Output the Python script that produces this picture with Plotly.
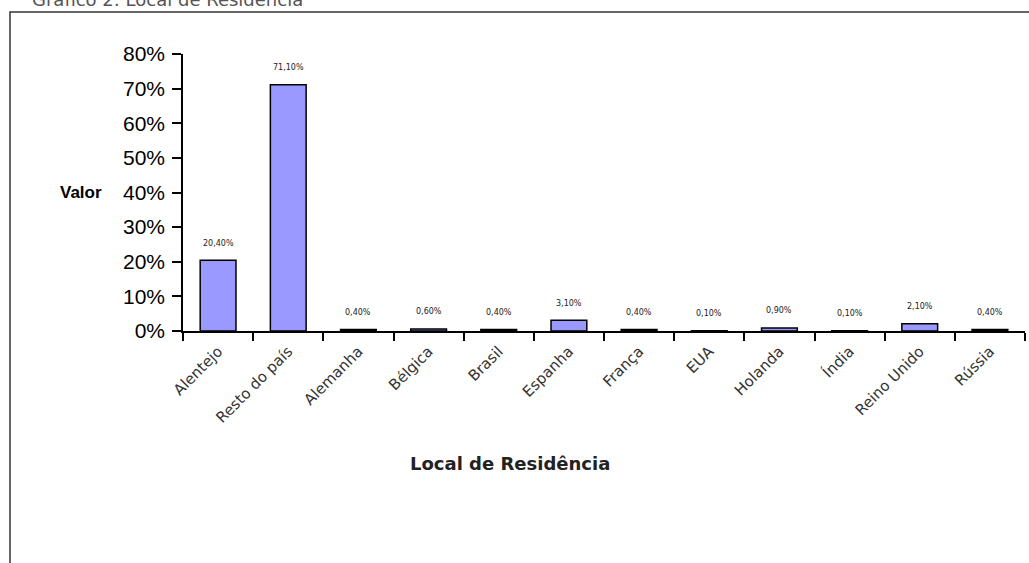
import plotly.graph_objects as go

# Residence of respondents (share of total)
categories = ["Alentejo", "Resto do país", "Alemanha", "Bélgica", "Brasil", "Espanha",
              "França", "EUA", "Holanda", "Índia", "Reino Unido", "Rússia"]
values = [20.4, 71.1, 0.4, 0.6, 0.4, 3.1, 0.4, 0.1, 0.9, 0.1, 2.1, 0.4]
y_ticks = [0, 10, 20, 30, 40, 50, 60, 70, 80]

shares = [v / 100 for v in values]
labels = [f"{v:.2f}%".replace(".", ",") for v in values]

W, H = 1029, 563
L, R, T, B = 183, 4, 54, 232
pw, ph = W - L - R, H - T - B


def px_x(px):
    return (px - L) / pw


def px_y(py):
    return (H - B - py) / ph


fig = go.Figure(
    go.Bar(
        x=categories,
        y=shares,
        width=0.51,
        marker=dict(color="#9999FF", line=dict(color="#000000", width=1.5)),
        hoverinfo="x+y",
    )
)

# value labels above each bar
for cat, share, lab in zip(categories, shares, labels):
    fig.add_annotation(
        x=cat, y=share, xref="x", yref="y", text=lab, showarrow=False,
        yanchor="middle", yshift=17,
        font=dict(family="DejaVu Sans", size=8, color="#222222"),
    )

fig.update_layout(
    width=W,
    height=H,
    margin=dict(l=L, r=R, t=T, b=B),
    paper_bgcolor="white",
    plot_bgcolor="white",
    showlegend=False,
    bargap=0.49,
)

fig.update_xaxes(
    type="category",
    showline=True,
    linecolor="#000000",
    linewidth=1.5,
    ticks="outside",
    tickson="boundaries",
    ticklen=8,
    tickwidth=1.5,
    tickcolor="#000000",
    tickangle=-45,
    ticklabelstandoff=4,
    tickfont=dict(family="DejaVu Sans", size=15, color="#333333"),
    showgrid=False,
)

fig.update_yaxes(
    range=[0, 0.8],
    tickvals=[t / 100 for t in y_ticks],
    ticktext=[f"{t}%" for t in y_ticks],
    showline=True,
    linecolor="#000000",
    linewidth=1.5,
    ticks="outside",
    ticklen=9,
    tickwidth=1.5,
    tickcolor="#000000",
    ticklabelstandoff=3,
    tickfont=dict(family="Arial, Liberation Sans", size=21, color="#000000"),
    showgrid=False,
    zeroline=False,
)

# outer frame of the chart object (top and left edges)
xl, xr = px_x(10), px_x(1029)
yt, yb = px_y(12), px_y(563)
fig.add_shape(
    type="path", xref="paper", yref="paper",
    path=f"M {xr} {yt} L {xl} {yt} L {xl} {yb}",
    line=dict(color="#333333", width=1.5), layer="below",
)

fig.add_annotation(
    text="Gráfico 2: Local de Residência", xref="paper", yref="paper",
    x=px_x(30), y=px_y(-1), xanchor="left", yanchor="middle", showarrow=False,
    font=dict(family="DejaVu Sans", size=18, color="#555555"),
)

fig.add_annotation(
    text="<b>Valor</b>", xref="paper", yref="y",
    x=px_x(104), y=0.4, xanchor="right", yanchor="middle", showarrow=False,
    font=dict(family="Arial, Liberation Sans", size=17, color="#000000"),
)

fig.add_annotation(
    text="<b>Local de Residência</b>", xref="paper", yref="paper",
    x=px_x(510), y=px_y(463), xanchor="center", yanchor="middle", showarrow=False,
    font=dict(family="DejaVu Sans", size=18, color="#222222"),
)

fig.write_html("out.html", config={"displayModeBar": False})
